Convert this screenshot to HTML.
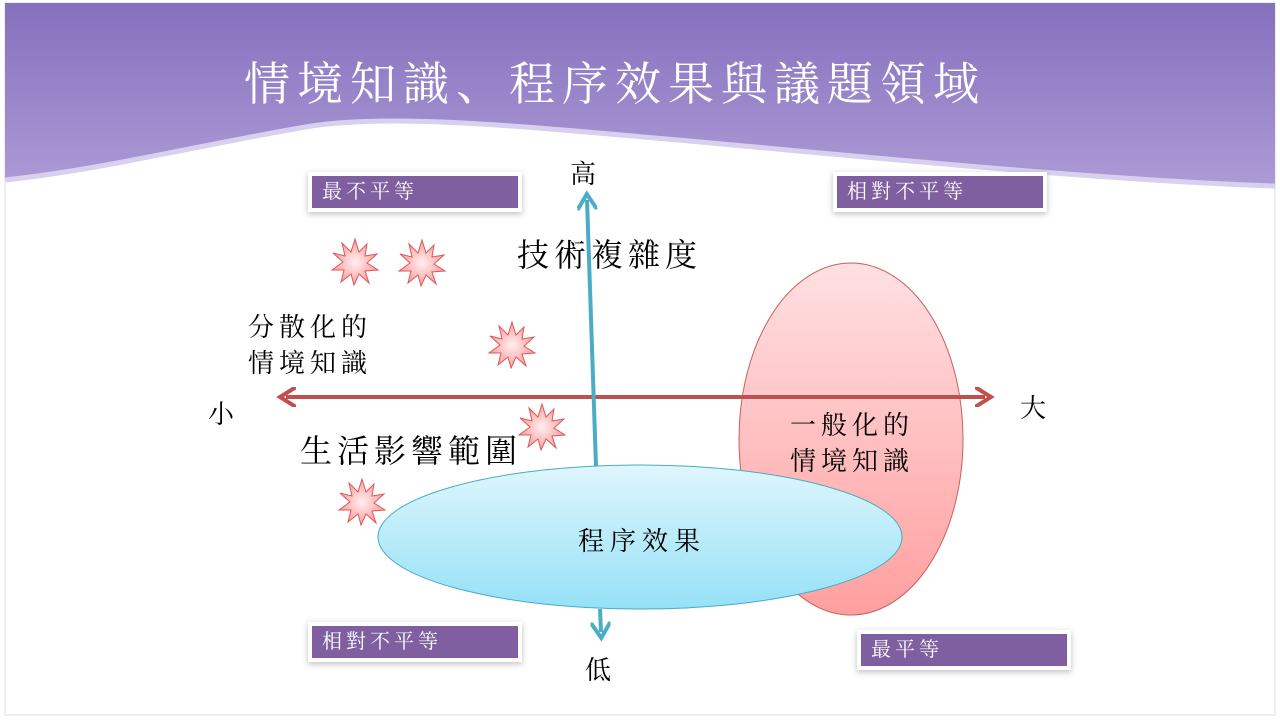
<!DOCTYPE html>
<html><head><meta charset="utf-8"><style>
html,body{margin:0;padding:0;background:#fff;}
body{width:1280px;height:720px;overflow:hidden;position:relative;font-family:"Liberation Serif","Noto Serif CJK SC","Noto Sans CJK TC",serif;}
svg{position:absolute;left:0;top:0;}
.box{position:absolute;background:#7f5f9f;color:#fff;font-size:20px;line-height:32px;padding-left:10px;letter-spacing:4px;box-shadow:0 0 0 4px #fff,0 2px 6px 4px rgba(0,0,0,0.25);box-sizing:border-box;}
.t{position:absolute;color:#000;white-space:nowrap;}
</style></head><body>
<svg width="1280" height="720" viewBox="0 0 1280 720">
<defs>
<linearGradient id="bg" x1="0" y1="0" x2="0" y2="1"><stop offset="0" stop-color="#8570bd"/><stop offset="1" stop-color="#ac9bd6"/></linearGradient>
<linearGradient id="ell" x1="0" y1="0" x2="0" y2="1"><stop offset="0" stop-color="#ffe0e2"/><stop offset="1" stop-color="#ff9f9f"/></linearGradient>
<linearGradient id="blu" x1="0" y1="0" x2="0" y2="1"><stop offset="0" stop-color="#dff6fc"/><stop offset="1" stop-color="#95e1f7"/></linearGradient>
<radialGradient id="st"><stop offset="0" stop-color="#fff0f0"/><stop offset="1" stop-color="#ff9c9c"/></radialGradient>
<g id="star"><polygon points="0,-23 4,-10 12,-18 10,-6 22,-8 12,1 23,8 10,9 14,21 4,12 -1,23 -4,12 -14,20 -11,8 -23,8 -12,0 -22,-9 -10,-6 -13,-19 -4,-10" fill="url(#st)" stroke="#d85a5a" stroke-width="1"/></g>
<marker id="ar" viewBox="0 0 10 10" refX="5" refY="5" markerWidth="5" markerHeight="5" orient="auto-start-reverse"><path d="M0,0 L8,5 L0,10" fill="none" stroke="context-stroke" stroke-width="2"/></marker>
</defs>
<rect x="5" y="3" width="1270" height="712" fill="#fff" stroke="#ddd"/>
<path d="M5,3 H1275 V186 C1100,180 900,160 700,142 C520,126 380,112 300,128 C200,145 100,170 5,180 Z" fill="url(#bg)"/>
<path d="M5,180 C100,170 200,145 300,128 C380,112 520,126 700,142 C900,160 1100,180 1275,186" fill="none" stroke="#d8d0ee" stroke-width="5"/>
<ellipse cx="851" cy="439" rx="112" ry="176" fill="url(#ell)" stroke="#c86060" stroke-width="1"/>
<line x1="286" y1="397" x2="985" y2="397" stroke="#c0504d" stroke-width="4" marker-start="url(#ar)" marker-end="url(#ar)"/>
<ellipse cx="640" cy="537" rx="262" ry="72" fill="url(#blu)" stroke="#4aaac5" stroke-width="1"/>
<line x1="596" y1="466" x2="587" y2="200" stroke="#4bacc6" stroke-width="4" marker-end="url(#ar)"/>
<line x1="600" y1="609" x2="601" y2="632" stroke="#4bacc6" stroke-width="4" marker-end="url(#ar)"/>
<use href="#star" x="355" y="262"/><use href="#star" x="422" y="263"/><use href="#star" x="512" y="345"/><use href="#star" x="542" y="427"/><use href="#star" x="362" y="502"/>
</svg>
<div class="t" style="left:244px;top:48px;font-size:46px;color:#fff;letter-spacing:7px;">情境知識、程序效果與議題領域</div>
<div class="box" style="left:312px;top:176px;width:206px;height:32px;">最不平等</div>
<div class="box" style="left:837px;top:176px;width:206px;height:32px;">相對不平等</div>
<div class="box" style="left:312px;top:626px;width:206px;height:32px;">相對不平等</div>
<div class="box" style="left:861px;top:634px;width:206px;height:32px;">最平等</div>
<div class="t" style="left:570px;top:154px;font-size:26px;">高</div>
<div class="t" style="left:585px;top:650px;font-size:26px;">低</div>
<div class="t" style="left:208px;top:394px;font-size:26px;">小</div>
<div class="t" style="left:1020px;top:388px;font-size:26px;">大</div>
<div class="t" style="left:517px;top:230px;font-size:32px;letter-spacing:5px;">技術複雜度</div>
<div class="t" style="left:300px;top:426px;font-size:32px;letter-spacing:5px;">生活影響範圍</div>
<div class="t" style="left:248px;top:310px;font-size:26px;line-height:36px;letter-spacing:5px;">分散化的<br>情境知識</div>
<div class="t" style="left:790px;top:408px;font-size:26px;line-height:36px;letter-spacing:5px;">一般化的<br>情境知識</div>
<div class="t" style="left:578px;top:521px;font-size:26px;letter-spacing:6px;">程序效果</div>
</body></html>
